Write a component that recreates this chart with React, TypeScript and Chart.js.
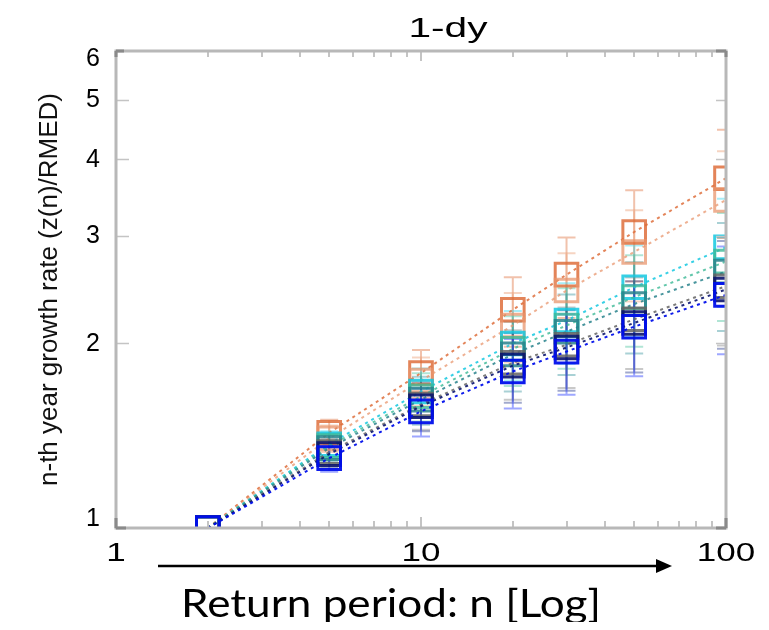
import React, { useEffect, useRef } from 'react';
import { Chart, registerables } from 'chart.js';

Chart.register(...registerables);

// ---- data ----
const returnPeriods = [2, 5, 10, 20, 30, 50, 100];
const orangeA = [1, 1.43, 1.79, 2.27, 2.59, 3.04, 3.72];
const orangeB = [1, 1.40, 1.74, 2.14, 2.44, 2.82, 3.43];
const cyan = [1, 1.37, 1.67, 2.0, 2.18, 2.47, 2.87];
const tealGreen = [1, 1.36, 1.64, 1.96, 2.14, 2.38, 2.72];
const darkTeal = [1, 1.35, 1.62, 1.92, 2.09, 2.32, 2.62];
const gray = [1, 1.33, 1.59, 1.86, 1.99, 2.19, 2.48];
const navy = [1, 1.32, 1.58, 1.84, 1.97, 2.16, 2.45];
const blue = [1, 1.3, 1.55, 1.8, 1.94, 2.13, 2.4];
// relative half-width of the error bars at each return period
const errFraction = [0, 0.05, 0.09, 0.13, 0.15, 0.17, 0.2];

const xTickValues = [1, 10, 100];
const xTickLabels = ['1', '10', '100'];
const yTickValues = [1, 2, 3, 4, 5, 6];
const yTickLabels = ['1', '2', '3', '4', '5', '6'];
const xMinorTicks = [2, 3, 4, 5, 6, 7, 8, 9, 20, 30, 40, 50, 60, 70, 80, 90];
const yMinorTicks = [2, 3, 4, 5];

const titleText = '1-dy';
const yAxisTitle = 'n-th year growth rate (z(n)/RMED)';
const captionText = 'Return period: n [Log]';

// drawing order: first entry is drawn on top
const seriesDefs = [
  { label: 'blue', values: blue, color: 'rgba(0,15,235,0.95)', err: 'rgba(40,60,255,0.45)' },
  { label: 'navy', values: navy, color: 'rgba(10,20,110,0.9)', err: 'rgba(20,40,130,0.4)' },
  { label: 'gray', values: gray, color: 'rgba(100,100,100,0.85)', err: 'rgba(120,120,120,0.4)' },
  { label: 'darkTeal', values: darkTeal, color: 'rgba(40,130,140,0.85)', err: 'rgba(40,140,150,0.4)' },
  { label: 'tealGreen', values: tealGreen, color: 'rgba(60,185,150,0.8)', err: 'rgba(60,190,150,0.4)' },
  { label: 'cyan', values: cyan, color: 'rgba(20,200,225,0.85)', err: 'rgba(60,215,240,0.45)' },
  { label: 'orangeB', values: orangeB, color: 'rgba(232,150,110,0.75)', err: 'rgba(235,160,120,0.45)' },
  { label: 'orangeA', values: orangeA, color: 'rgba(222,110,60,0.85)', err: 'rgba(225,120,70,0.45)' },
];

function stretchedText(ctx: CanvasRenderingContext2D, text: string, cx: number, baseline: number, sx: number) {
  ctx.save();
  ctx.translate(cx, baseline);
  ctx.scale(sx, 1);
  ctx.textAlign = 'center';
  ctx.textBaseline = 'alphabetic';
  ctx.fillText(text, 0, 0);
  ctx.restore();
}

const decorPlugin = {
  id: 'decor',
  beforeDatasetsDraw(chart: any) {
    const { ctx, chartArea: a, scales } = chart;
    const x = scales.x;
    const y = scales.y;
    ctx.save();
    ctx.beginPath();
    ctx.rect(a.left, a.top, a.right - a.left, a.bottom - a.top);
    ctx.clip();
    for (let s = seriesDefs.length - 1; s >= 0; s--) {
      const def = seriesDefs[s];
      def.values.forEach((v, i) => {
        const e = errFraction[i];
        if (!e) return;
        const px = x.getPixelForValue(returnPeriods[i]);
        const pl = y.getPixelForValue(v * (1 - e));
        const ph = y.getPixelForValue(v * (1 + e));
        ctx.strokeStyle = def.err;
        ctx.lineWidth = 2;
        ctx.beginPath();
        ctx.moveTo(px, pl);
        ctx.lineTo(px, ph);
        ctx.moveTo(px - 9, pl);
        ctx.lineTo(px + 9, pl);
        ctx.moveTo(px - 9, ph);
        ctx.lineTo(px + 9, ph);
        ctx.stroke();
      });
    }
    ctx.restore();
  },
  afterDraw(chart: any) {
    const { ctx, chartArea: a, scales } = chart;
    const x = scales.x;
    const y = scales.y;
    ctx.save();

    // minor ticks
    ctx.strokeStyle = '#c4c4c4';
    ctx.lineWidth = 2;
    ctx.beginPath();
    xMinorTicks.forEach((v) => {
      const px = Math.round(x.getPixelForValue(v));
      ctx.moveTo(px, a.bottom);
      ctx.lineTo(px, a.bottom - 7);
      ctx.moveTo(px, a.top);
      ctx.lineTo(px, a.top + 6);
    });
    ctx.stroke();
    ctx.beginPath();
    const p10 = Math.round(x.getPixelForValue(10));
    ctx.moveTo(p10, a.bottom);
    ctx.lineTo(p10, a.bottom - 11);
    ctx.moveTo(p10, a.top);
    ctx.lineTo(p10, a.top + 10);
    ctx.stroke();
    ctx.lineWidth = 1.5;
    ctx.beginPath();
    yMinorTicks.forEach((v) => {
      const py = Math.round(y.getPixelForValue(v)) + 0.5;
      ctx.moveTo(a.left, py);
      ctx.lineTo(a.left + 13, py);
      ctx.moveTo(a.right, py);
      ctx.lineTo(a.right - 10, py);
    });
    ctx.stroke();

    // frame
    ctx.strokeStyle = '#b8b8b8';
    ctx.lineWidth = 3;
    ctx.strokeRect(a.left, a.top, a.right - a.left, a.bottom - a.top);
    // darker corner marks
    ctx.strokeStyle = '#8a8a8a';
    ctx.lineWidth = 3;
    ctx.beginPath();
    ctx.moveTo(a.left, a.top);
    ctx.lineTo(a.left + 8, a.top);
    ctx.moveTo(a.left, a.top);
    ctx.lineTo(a.left, a.top + 6);
    ctx.moveTo(a.left, a.bottom);
    ctx.lineTo(a.left, a.bottom - 10);
    ctx.moveTo(a.left, a.bottom);
    ctx.lineTo(a.left + 10, a.bottom);
    ctx.moveTo(a.right, a.bottom);
    ctx.lineTo(a.right - 10, a.bottom);
    ctx.moveTo(a.right, a.bottom);
    ctx.lineTo(a.right, a.bottom - 10);
    ctx.moveTo(a.right, a.top);
    ctx.lineTo(a.right - 10, a.top);
    ctx.moveTo(a.right, a.top);
    ctx.lineTo(a.right, a.top + 6);
    ctx.stroke();

    ctx.fillStyle = '#000';
    // x tick labels (stretched horizontally as in the source figure)
    ctx.font = '25px "Liberation Sans", Arial, sans-serif';
    xTickValues.forEach((v, i) => {
      const px = x.getPixelForValue(v);
      stretchedText(ctx, xTickLabels[i], px, a.bottom + 33, 1.4);
    });

    // y tick labels
    ctx.font = '25px "Liberation Sans", Arial, sans-serif';
    ctx.textAlign = 'right';
    ctx.textBaseline = 'middle';
    yTickValues.forEach((v, i) => {
      let py = y.getPixelForValue(v);
      py = Math.min(Math.max(py, a.top + 7), a.bottom - 10);
      ctx.fillText(yTickLabels[i], a.left - 16, py + 1);
    });

    // y axis title
    ctx.save();
    ctx.translate(42, (a.top + a.bottom) / 2);
    ctx.rotate(-Math.PI / 2);
    ctx.font = '26px "Liberation Sans", Arial, sans-serif';
    ctx.textAlign = 'center';
    ctx.textBaseline = 'middle';
    ctx.fillStyle = '#111';
    ctx.fillText(yAxisTitle, 0, 0);
    ctx.restore();

    // title
    ctx.fillStyle = '#000';
    ctx.font = '28px "Liberation Sans", Arial, sans-serif';
    stretchedText(ctx, titleText, 440, 29, 1.45);

    // arrow
    ctx.strokeStyle = '#000';
    ctx.lineWidth = 2.5;
    ctx.beginPath();
    ctx.moveTo(150, 558);
    ctx.lineTo(652, 558);
    ctx.stroke();
    ctx.beginPath();
    ctx.moveTo(664, 558);
    ctx.lineTo(648, 551);
    ctx.lineTo(648, 565);
    ctx.closePath();
    ctx.fill();

    // caption
    ctx.font = '39px Lato, "Open Sans", sans-serif';
    const w = ctx.measureText(captionText).width;
    stretchedText(ctx, captionText, 383, 609, 420 / w);

    ctx.restore();
  },
};

export default function App() {
  const ref = useRef<HTMLCanvasElement>(null);
  useEffect(() => {
    const canvas = ref.current;
    if (!canvas) return;
    const chart = new Chart(canvas, {
      type: 'line',
      data: {
        datasets: seriesDefs.map((s) => ({
          label: s.label,
          data: returnPeriods.map((n, i) => ({ x: n, y: s.values[i] })),
          borderColor: s.color,
          backgroundColor: 'rgba(0,0,0,0)',
          borderWidth: 2,
          borderDash: [3, 4],
          pointStyle: 'rect',
          pointRadius: 16,
          pointBorderWidth: 3,
          pointBorderColor: s.color,
          pointBackgroundColor: 'rgba(0,0,0,0)',
          tension: 0,
          fill: false,
        })),
      },
      options: {
        animation: false,
        responsive: false,
        events: [],
        layout: { padding: { left: 108, top: 43, right: 35, bottom: 94 } },
        plugins: {
          legend: { display: false },
          title: { display: false },
          tooltip: { enabled: false },
        },
        scales: {
          x: {
            type: 'logarithmic',
            min: 1,
            max: 100,
            grid: { display: false, drawTicks: false },
            border: { display: false },
            ticks: { display: false },
          },
          y: {
            type: 'logarithmic',
            min: 1,
            max: 6,
            grid: { display: false, drawTicks: false },
            border: { display: false },
            ticks: { display: false },
          },
        },
      },
      plugins: [decorPlugin],
    });
    return () => chart.destroy();
  }, []);
  return (
    <div style={{ width: 753, height: 614 }}>
      <canvas ref={ref} width={753} height={614} style={{ display: 'block' }} />
    </div>
  );
}
